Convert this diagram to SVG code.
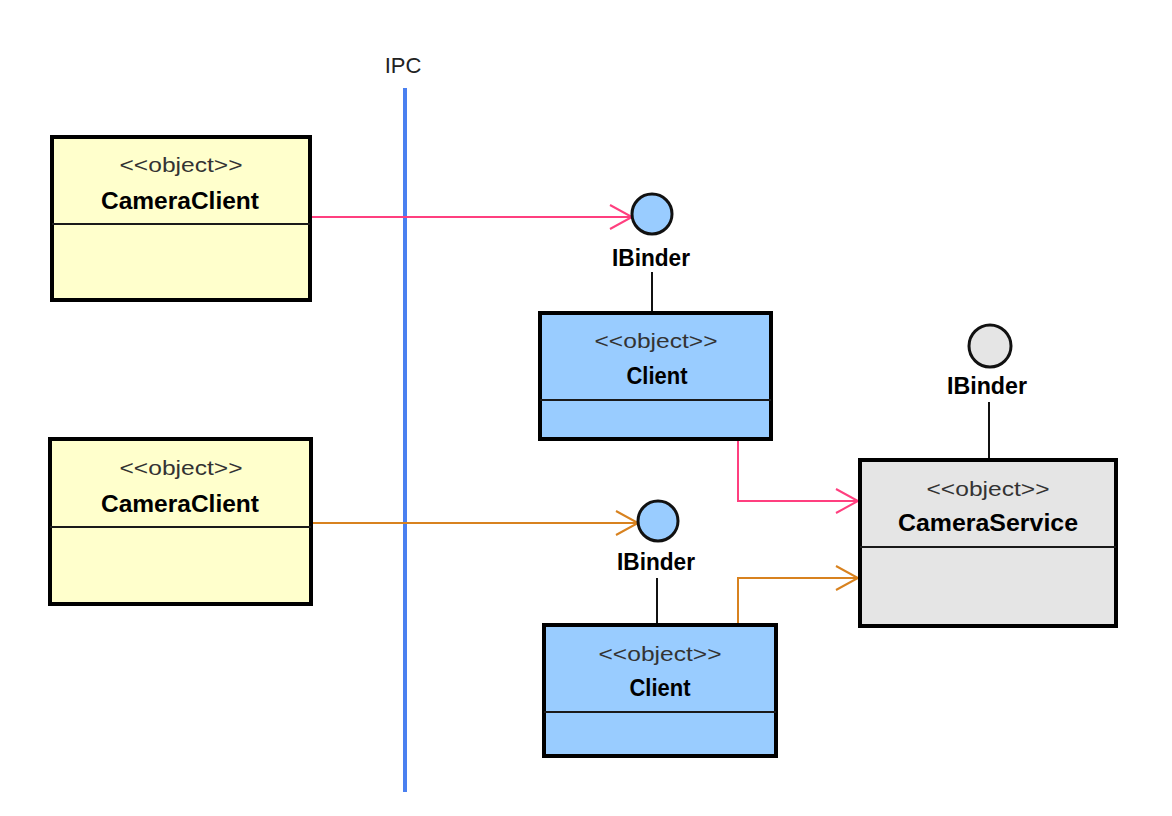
<svg xmlns="http://www.w3.org/2000/svg" width="1172" height="816" viewBox="0 0 1172 816">
<style>
.box{stroke:#000;stroke-width:4}
.div{stroke:#1a1a1a;stroke-width:2}
.st{font-family:"Liberation Sans",Arial,sans-serif;font-size:21px;fill:#333;text-anchor:middle}
.nm{font-family:"Liberation Sans",Arial,sans-serif;font-size:23px;font-weight:bold;fill:#000;text-anchor:middle}
.ifc{stroke:#111;stroke-width:3}
.lol{stroke:#111;stroke-width:2}
.pink{stroke:#ff3f7f;stroke-width:2;fill:none}
.orng{stroke:#d8821f;stroke-width:2;fill:none}
</style>
<defs>
<marker id="ahP" markerUnits="userSpaceOnUse" markerWidth="30" markerHeight="30" viewBox="-26 -15 30 30" refX="0" refY="0" orient="auto">
<path d="M-22,-12 L0,0 L-22,12" fill="none" stroke="#ff3f7f" stroke-width="2"/>
</marker>
<marker id="ahO" markerUnits="userSpaceOnUse" markerWidth="30" markerHeight="30" viewBox="-26 -15 30 30" refX="0" refY="0" orient="auto">
<path d="M-22,-12 L0,0 L-22,12" fill="none" stroke="#d8821f" stroke-width="2"/>
</marker>
</defs>
<rect width="1172" height="816" fill="#fff"/>

<g id="ipc">
<text x="403" y="73" font-family="Liberation Sans,Arial,sans-serif" font-size="22" fill="#222" text-anchor="middle">IPC</text>
<line x1="405" y1="88" x2="405" y2="792" stroke="#4a80f0" stroke-width="4"/>
</g>

<g id="connectors">
<line class="pink" x1="312" y1="217" x2="632" y2="217" marker-end="url(#ahP)"/>
<polyline class="pink" points="738,441 738,501 858,501" marker-end="url(#ahP)"/>
<line class="orng" x1="313" y1="523" x2="638" y2="523" marker-end="url(#ahO)"/>
<polyline class="orng" points="738,623 738,578 858,578" marker-end="url(#ahO)"/>
<line class="lol" x1="652" y1="272" x2="652" y2="311"/>
<line class="lol" x1="657" y1="578" x2="657" y2="623"/>
<line class="lol" x1="989" y1="402" x2="989" y2="458"/>
</g>

<g id="cameraClient1">
<rect class="box" x="52" y="137" width="258" height="163" fill="#ffffcc"/>
<line class="div" x1="52" y1="224" x2="310" y2="224"/>
<text class="st" x="181" y="172" textLength="123" lengthAdjust="spacingAndGlyphs">&lt;&lt;object&gt;&gt;</text>
<text class="nm" x="180" y="209" textLength="158" lengthAdjust="spacingAndGlyphs">CameraClient</text>
</g>

<g id="cameraClient2">
<rect class="box" x="50" y="439" width="261" height="165" fill="#ffffcc"/>
<line class="div" x1="50" y1="527" x2="311" y2="527"/>
<text class="st" x="181" y="475" textLength="123" lengthAdjust="spacingAndGlyphs">&lt;&lt;object&gt;&gt;</text>
<text class="nm" x="180" y="512" textLength="158" lengthAdjust="spacingAndGlyphs">CameraClient</text>
</g>

<g id="ibinder1">
<circle class="ifc" cx="652" cy="214" r="20" fill="#99ccff"/>
<text class="nm" x="651" y="266" textLength="78" lengthAdjust="spacingAndGlyphs">IBinder</text>
</g>

<g id="client1">
<rect class="box" x="540" y="313" width="231" height="126" fill="#99ccff"/>
<line class="div" x1="540" y1="400" x2="771" y2="400"/>
<text class="st" x="656" y="348" textLength="123" lengthAdjust="spacingAndGlyphs">&lt;&lt;object&gt;&gt;</text>
<text class="nm" x="657" y="384" textLength="61" lengthAdjust="spacingAndGlyphs">Client</text>
</g>

<g id="ibinder2">
<circle class="ifc" cx="658" cy="521" r="20" fill="#99ccff"/>
<text class="nm" x="656" y="570" textLength="78" lengthAdjust="spacingAndGlyphs">IBinder</text>
</g>

<g id="client2">
<rect class="box" x="544" y="625" width="232" height="131" fill="#99ccff"/>
<line class="div" x1="544" y1="712" x2="776" y2="712"/>
<text class="st" x="660" y="661" textLength="123" lengthAdjust="spacingAndGlyphs">&lt;&lt;object&gt;&gt;</text>
<text class="nm" x="660" y="696" textLength="61" lengthAdjust="spacingAndGlyphs">Client</text>
</g>

<g id="ibinder3">
<circle class="ifc" cx="990" cy="346" r="21" fill="#e5e5e5"/>
<text class="nm" x="987" y="394" textLength="80" lengthAdjust="spacingAndGlyphs">IBinder</text>
</g>

<g id="cameraService">
<rect class="box" x="860" y="460" width="256" height="166" fill="#e5e5e5"/>
<line class="div" x1="860" y1="547" x2="1116" y2="547"/>
<text class="st" x="988" y="496" textLength="123" lengthAdjust="spacingAndGlyphs">&lt;&lt;object&gt;&gt;</text>
<text class="nm" x="988" y="531" textLength="180" lengthAdjust="spacingAndGlyphs">CameraService</text>
</g>
</svg>
